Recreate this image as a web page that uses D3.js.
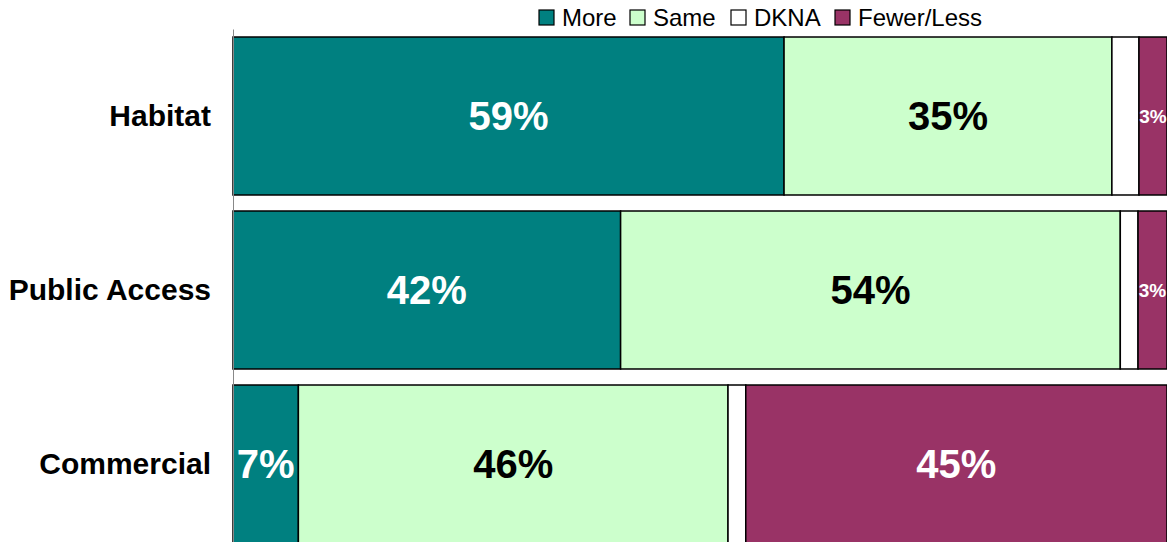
<!DOCTYPE html>
<html>
<head>
<meta charset="utf-8">
<script src="https://cdn.jsdelivr.net/npm/d3@7"></script>
<style>
  body { margin: 0; overflow: hidden; background: #fff; }
  text { font-family: Arial, "Liberation Sans", sans-serif; }
</style>
</head>
<body>
<script>
// data (percent of answers)
var categories = ['Habitat', 'Public Access', 'Commercial'];
var seriesNames = ['More', 'Same', 'DKNA', 'Fewer/Less'];
var more  = [59, 41.5, 7];
var same  = [35.1, 53.5, 46];
var dkna  = [2.9, 1.9, 1.9];
var fewer = [3, 3.1, 45.1];
var colors = ['#008080', '#ccffcc', '#ffffff', '#993366'];
var labelColors = ['#fff', '#000', null, '#fff'];

var W = 1167, H = 542;

var svg = d3.select('body').append('svg')
	.attr('width', W)
	.attr('height', H);

var rows = categories.map(function(c, i) {
	return { cat: c, More: more[i], Same: same[i], DKNA: dkna[i], 'Fewer/Less': fewer[i] };
});

var stack = d3.stack().keys(seriesNames);
var layers = stack(rows);

var x = d3.scaleLinear().domain([0, 100]).range([233, 1167]);
var y = d3.scaleBand().domain(categories)
	.range([29, 29 + 3 * 174])
	.paddingInner(0.092)
	.paddingOuter(0.046);

var layer = svg.selectAll('g.layer')
	.data(layers)
	.enter().append('g')
	.attr('class', 'layer')
	.attr('fill', function(d, i) { return colors[i]; });

layer.selectAll('rect')
	.data(function(d) { return d; })
	.enter().append('rect')
	.attr('x', function(d) { return x(d[0]); })
	.attr('y', function(d) { return y(d.data.cat); })
	.attr('width', function(d) { return x(d[1]) - x(d[0]); })
	.attr('height', y.bandwidth())
	.attr('stroke', '#000')
	.attr('stroke-width', 1.5);

// value labels
layers.forEach(function(l, k) {
	if (!labelColors[k]) return;
	svg.selectAll(null)
		.data(l)
		.enter().append('text')
		.attr('x', function(d) { return (x(d[0]) + x(d[1])) / 2; })
		.attr('y', function(d) { return y(d.data.cat) + y.bandwidth() / 2; })
		.attr('dy', '0.36em')
		.attr('text-anchor', 'middle')
		.attr('font-weight', 'bold')
		.attr('font-size', function(d) { return (d[1] - d[0]) < 5 ? 19 : 40; })
		.attr('fill', labelColors[k])
		.text(function(d) { return Math.round(d[1] - d[0]) + '%'; });
});

// category axis
var yAxis = svg.append('g')
	.attr('transform', 'translate(233,0)')
	.call(d3.axisLeft(y).tickSize(0).tickPadding(22));
yAxis.select('.domain').attr('stroke', '#888');
yAxis.selectAll('text')
	.attr('font-size', 30)
	.attr('font-weight', 'bold')
	.attr('fill', '#000')
	.style('font-family', 'Arial, "Liberation Sans", sans-serif');

// legend
var legendX = [539, 630, 731, 835];
var legend = svg.selectAll('g.legend')
	.data(seriesNames)
	.enter().append('g')
	.attr('class', 'legend')
	.attr('transform', function(d, i) { return 'translate(' + legendX[i] + ',10)'; });

legend.append('rect')
	.attr('width', 15)
	.attr('height', 15)
	.attr('fill', function(d, i) { return colors[i]; })
	.attr('stroke', '#000')
	.attr('stroke-width', 1.2);

legend.append('text')
	.attr('x', 23)
	.attr('y', 16)
	.attr('font-size', 24)
	.attr('fill', '#000')
	.text(function(d) { return d; });
</script>
</body>
</html>
